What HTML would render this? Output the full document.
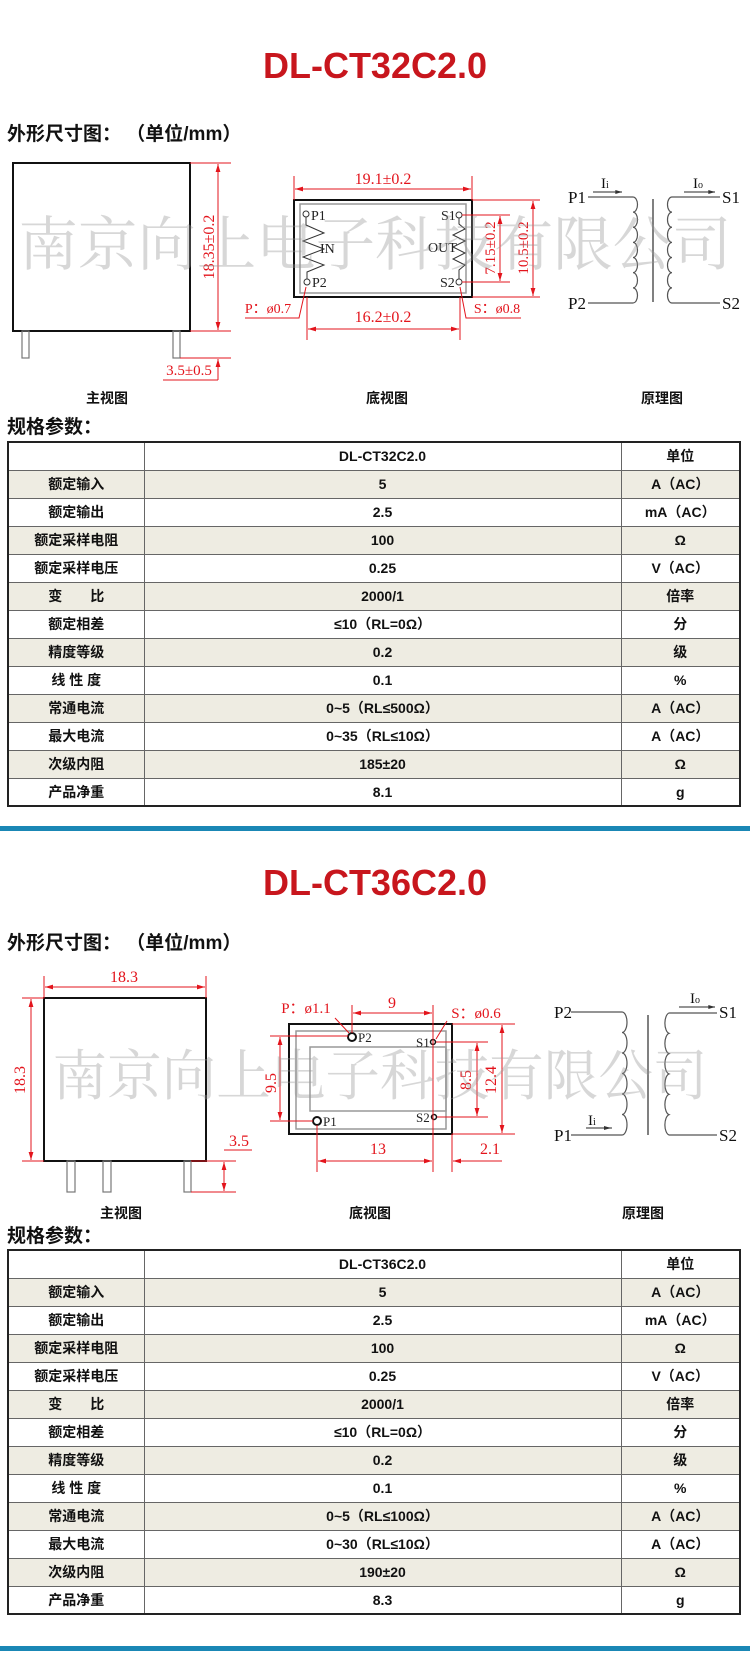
<!DOCTYPE html>
<html><head><meta charset="utf-8"><style>
*{margin:0;padding:0;box-sizing:border-box}
body{width:750px;height:1660px;background:#fff;position:relative;overflow:hidden;font-family:"Liberation Sans","Noto Sans CJK SC",sans-serif}
.title{position:absolute;left:0;width:750px;text-align:center;color:#c8161d;font-weight:bold;font-size:36px;line-height:40px}
.h{position:absolute;left:7px;font-weight:bold;font-size:19px;line-height:22px;color:#111}
.lbl{position:absolute;font-weight:bold;font-size:14px;color:#111;line-height:16px}
table{position:absolute;left:7px;width:732px;border-collapse:collapse;table-layout:fixed;border:2px solid #222}
td{border:1.5px solid #666;height:28px;text-align:center;font-weight:bold;font-size:14px;color:#111;padding:0}
tr.s td{background:#eeece2}
.bar{position:absolute;left:0;width:750px;height:5px;background:#1a87b5}
svg{position:absolute;left:0;top:0}
</style></head><body>

<div class="title" style="top:46px">DL-CT32C2.0</div>
<div class="h" style="top:124px">外形尺寸图：&nbsp;（单位/mm）</div>
<div class="lbl" style="top:390px;left:86px">主视图</div>
<div class="lbl" style="top:390px;left:366px">底视图</div>
<div class="lbl" style="top:390px;left:641px">原理图</div>
<div class="h" style="top:417px">规格参数：</div>
<table style="top:441px">
<colgroup><col style="width:136px"><col style="width:477px"><col style="width:119px"></colgroup>
<tr><td></td><td>DL-CT32C2.0</td><td>单位</td></tr>
<tr class="s"><td>额定输入</td><td>5</td><td>A（AC）</td></tr>
<tr><td>额定输出</td><td>2.5</td><td>mA（AC）</td></tr>
<tr class="s"><td>额定采样电阻</td><td>100</td><td>Ω</td></tr>
<tr><td>额定采样电压</td><td>0.25</td><td>V（AC）</td></tr>
<tr class="s"><td>变　　比</td><td>2000/1</td><td>倍率</td></tr>
<tr><td>额定相差</td><td>≤10（RL=0Ω）</td><td>分</td></tr>
<tr class="s"><td>精度等级</td><td>0.2</td><td>级</td></tr>
<tr><td>线 性 度</td><td>0.1</td><td>%</td></tr>
<tr class="s"><td>常通电流</td><td>0~5（RL≤500Ω）</td><td>A（AC）</td></tr>
<tr><td>最大电流</td><td>0~35（RL≤10Ω）</td><td>A（AC）</td></tr>
<tr class="s"><td>次级内阻</td><td>185±20</td><td>Ω</td></tr>
<tr><td>产品净重</td><td>8.1</td><td>g</td></tr>
</table>
<div class="bar" style="top:826px"></div>

<div class="title" style="top:863px">DL-CT36C2.0</div>
<div class="h" style="top:933px">外形尺寸图：&nbsp;（单位/mm）</div>
<div class="lbl" style="top:1205px;left:100px">主视图</div>
<div class="lbl" style="top:1205px;left:349px">底视图</div>
<div class="lbl" style="top:1205px;left:622px">原理图</div>
<div class="h" style="top:1226px">规格参数：</div>
<table style="top:1249px">
<colgroup><col style="width:136px"><col style="width:477px"><col style="width:119px"></colgroup>
<tr><td></td><td>DL-CT36C2.0</td><td>单位</td></tr>
<tr class="s"><td>额定输入</td><td>5</td><td>A（AC）</td></tr>
<tr><td>额定输出</td><td>2.5</td><td>mA（AC）</td></tr>
<tr class="s"><td>额定采样电阻</td><td>100</td><td>Ω</td></tr>
<tr><td>额定采样电压</td><td>0.25</td><td>V（AC）</td></tr>
<tr class="s"><td>变　　比</td><td>2000/1</td><td>倍率</td></tr>
<tr><td>额定相差</td><td>≤10（RL=0Ω）</td><td>分</td></tr>
<tr class="s"><td>精度等级</td><td>0.2</td><td>级</td></tr>
<tr><td>线 性 度</td><td>0.1</td><td>%</td></tr>
<tr class="s"><td>常通电流</td><td>0~5（RL≤100Ω）</td><td>A（AC）</td></tr>
<tr><td>最大电流</td><td>0~30（RL≤10Ω）</td><td>A（AC）</td></tr>
<tr class="s"><td>次级内阻</td><td>190±20</td><td>Ω</td></tr>
<tr><td>产品净重</td><td>8.3</td><td>g</td></tr>
</table>
<div class="bar" style="top:1646px"></div>

<svg width="750" height="1660" viewBox="0 0 750 1660">
<defs>
<marker id="a" viewBox="0 0 10 6" refX="10" refY="3" markerWidth="8" markerHeight="5" orient="auto-start-reverse" markerUnits="userSpaceOnUse"><path d="M0 0L10 3L0 6z" fill="#e3141c"/></marker>
<marker id="k" viewBox="0 0 10 6" refX="10" refY="3" markerWidth="7" markerHeight="4" orient="auto-start-reverse" markerUnits="userSpaceOnUse"><path d="M0 0L10 3L0 6z" fill="#333"/></marker>
</defs>
<g font-family="Liberation Serif, serif" font-size="16" fill="#e3141c" text-anchor="middle">
<g stroke="#111" fill="none">
<rect x="13" y="163" width="177" height="168" stroke-width="2"/>
<rect x="22" y="331" width="7" height="27" stroke="#777" stroke-width="1.2"/>
<rect x="173" y="331" width="7" height="27" stroke="#777" stroke-width="1.2"/>
</g>
<g stroke="#e3141c" stroke-width="1" fill="none">
<line x1="190" y1="163" x2="231" y2="163"/><line x1="190" y1="331" x2="231" y2="331"/><line x1="180" y1="358" x2="231" y2="358"/>
<line x1="218" y1="164" x2="218" y2="330" marker-start="url(#a)" marker-end="url(#a)"/>
<line x1="218" y1="380" x2="218" y2="359" marker-end="url(#a)"/>
<line x1="163" y1="380" x2="218" y2="380"/>
</g>
<text transform="translate(214,247) rotate(-90)">18.35±0.2</text>
<text x="189" y="375" font-size="15">3.5±0.5</text>

<g fill="none">
<rect x="294" y="200" width="178" height="97" stroke="#111" stroke-width="2"/>
<rect x="300" y="204" width="166" height="89" stroke="#999" stroke-width="1.5"/>
<g stroke="#333" stroke-width="1">
<circle cx="306" cy="214" r="3"/><circle cx="307" cy="282" r="3"/>
<circle cx="459" cy="215" r="3"/><circle cx="459" cy="282" r="3"/>
<path d="M306 217 L306 225 L324 233 L303 241 L324 249 L303 257 L324 265 L307 272 L307 279"/>
<path d="M459 218 L459 224 L465 229 L453 235 L465 241 L453 247 L465 253 L453 259 L465 265 L459 270 L459 279"/>
</g>
</g>
<g fill="#222" font-size="14" text-anchor="start">
<text x="311" y="220">P1</text><text x="312" y="287">P2</text>
<text x="320" y="253">IN</text><text x="428" y="252">OUT</text>
<text x="441" y="220">S1</text><text x="440" y="287">S2</text>
</g>
<g stroke="#e3141c" stroke-width="1" fill="none">
<line x1="294" y1="176" x2="294" y2="200"/><line x1="472" y1="176" x2="472" y2="200"/>
<line x1="295" y1="189" x2="471" y2="189" marker-start="url(#a)" marker-end="url(#a)"/>
<line x1="462" y1="215" x2="510" y2="215"/><line x1="462" y1="282" x2="510" y2="282"/>
<line x1="500" y1="216" x2="500" y2="281" marker-start="url(#a)" marker-end="url(#a)"/>
<line x1="472" y1="200" x2="540" y2="200"/><line x1="472" y1="297" x2="540" y2="297"/>
<line x1="533" y1="201" x2="533" y2="296" marker-start="url(#a)" marker-end="url(#a)"/>
<path d="M306 287 L299 318 L245 318"/><path d="M460 287 L466 318 L521 318"/>
<line x1="307" y1="297" x2="307" y2="340"/><line x1="460" y1="297" x2="460" y2="340"/>
<line x1="308" y1="329" x2="459" y2="329" marker-start="url(#a)" marker-end="url(#a)"/>
</g>
<text x="383" y="184">19.1±0.2</text>
<text transform="translate(495,248) rotate(-90)" font-size="15">7.15±0.2</text>
<text transform="translate(528,248) rotate(-90)" font-size="15">10.5±0.2</text>
<text x="268" y="313" font-size="14">P：ø0.7</text>
<text x="497" y="313" font-size="14">S：ø0.8</text>
<text x="383" y="322">16.2±0.2</text>

<g stroke="#555" stroke-width="1.2" fill="none">
<path d="M588 197 L633 197 a4.5 7.57 0 0 1 0 15.14 a4.5 7.57 0 0 1 0 15.14 a4.5 7.57 0 0 1 0 15.14 a4.5 7.57 0 0 1 0 15.14 a4.5 7.57 0 0 1 0 15.14 a4.5 7.57 0 0 1 0 15.14 a4.5 7.57 0 0 1 0 15.14 L588 303"/>
<path d="M720 197 L672 197 a4.5 7.57 0 0 0 0 15.14 a4.5 7.57 0 0 0 0 15.14 a4.5 7.57 0 0 0 0 15.14 a4.5 7.57 0 0 0 0 15.14 a4.5 7.57 0 0 0 0 15.14 a4.5 7.57 0 0 0 0 15.14 a4.5 7.57 0 0 0 0 15.14 L720 303"/>
<line x1="653" y1="199" x2="653" y2="302" stroke-width="1.5"/>
<line x1="593" y1="192" x2="622" y2="192" marker-end="url(#k)"/>
<line x1="684" y1="192" x2="715" y2="192" marker-end="url(#k)"/>
</g>
<g fill="#111" font-size="17" text-anchor="start">
<text x="568" y="203">P1</text><text x="568" y="309">P2</text>
<text x="722" y="203">S1</text><text x="722" y="309">S2</text>
<text x="601" y="188" font-size="15">I<tspan font-size="10">i</tspan></text>
<text x="693" y="188" font-size="15">I<tspan font-size="10">o</tspan></text>
</g>

<g stroke="#111" fill="none">
<rect x="44" y="998" width="162" height="163" stroke-width="2"/>
<g stroke="#777" stroke-width="1.2">
<rect x="67" y="1161" width="8" height="31"/><rect x="103" y="1161" width="8" height="31"/><rect x="184" y="1161" width="7" height="31"/>
</g>
</g>
<g stroke="#e3141c" stroke-width="1" fill="none">
<line x1="44" y1="976" x2="44" y2="998"/><line x1="206" y1="976" x2="206" y2="998"/>
<line x1="45" y1="987" x2="205" y2="987" marker-start="url(#a)" marker-end="url(#a)"/>
<line x1="22" y1="998" x2="44" y2="998"/><line x1="22" y1="1161" x2="44" y2="1161"/>
<line x1="31" y1="999" x2="31" y2="1160" marker-start="url(#a)" marker-end="url(#a)"/>
<line x1="191" y1="1161" x2="236" y2="1161"/><line x1="191" y1="1192" x2="236" y2="1192"/>
<line x1="224" y1="1162" x2="224" y2="1191" marker-start="url(#a)" marker-end="url(#a)"/>
<line x1="224" y1="1150" x2="252" y2="1150"/>
</g>
<text x="124" y="982">18.3</text>
<text transform="translate(25,1080) rotate(-90)">18.3</text>
<text x="239" y="1146">3.5</text>

<g fill="none">
<rect x="289" y="1024" width="163" height="110" stroke="#111" stroke-width="2"/>
<rect x="296" y="1031" width="150" height="98" stroke="#999" stroke-width="1.5"/>
<rect x="310" y="1047" width="136" height="64" stroke="#999" stroke-width="1.5"/>
<circle cx="352" cy="1037" r="4" stroke="#111" stroke-width="2"/>
<circle cx="317" cy="1121" r="4" stroke="#111" stroke-width="2"/>
<circle cx="433" cy="1042" r="2.5" stroke="#111" stroke-width="1.5"/>
<circle cx="434" cy="1117" r="2.5" stroke="#111" stroke-width="1.5"/>
</g>
<g fill="#222" font-size="13" text-anchor="start">
<text x="358" y="1042">P2</text><text x="416" y="1047">S1</text>
<text x="323" y="1126">P1</text><text x="416" y="1122">S2</text>
</g>
<g stroke="#e3141c" stroke-width="1" fill="none">
<line x1="352" y1="1005" x2="352" y2="1033"/><line x1="433" y1="1005" x2="433" y2="1172"/>
<line x1="353" y1="1013" x2="432" y2="1013" marker-start="url(#a)" marker-end="url(#a)"/>
<line x1="335" y1="1018" x2="349" y2="1033"/><line x1="447" y1="1021" x2="436" y2="1039"/>
<line x1="270" y1="1036" x2="348" y2="1036"/><line x1="270" y1="1121" x2="313" y2="1121"/>
<line x1="280" y1="1037" x2="280" y2="1120" marker-start="url(#a)" marker-end="url(#a)"/>
<line x1="436" y1="1042" x2="488" y2="1042"/><line x1="437" y1="1117" x2="488" y2="1117"/>
<line x1="477" y1="1043" x2="477" y2="1116" marker-start="url(#a)" marker-end="url(#a)"/>
<line x1="452" y1="1024" x2="515" y2="1024"/><line x1="452" y1="1134" x2="515" y2="1134"/>
<line x1="502" y1="1025" x2="502" y2="1133" marker-start="url(#a)" marker-end="url(#a)"/>
<line x1="317" y1="1125" x2="317" y2="1172"/><line x1="452" y1="1134" x2="452" y2="1172"/>
<line x1="318" y1="1161" x2="432" y2="1161" marker-start="url(#a)" marker-end="url(#a)"/>
<line x1="502" y1="1161" x2="453" y2="1161" marker-end="url(#a)"/>
</g>
<text x="392" y="1008">9</text>
<text x="306" y="1013" font-size="15">P：ø1.1</text>
<text x="476" y="1018" font-size="15">S：ø0.6</text>
<text transform="translate(276,1083) rotate(-90)">9.5</text>
<text transform="translate(471,1080) rotate(-90)">8.5</text>
<text transform="translate(496,1080) rotate(-90)">12.4</text>
<text x="378" y="1154">13</text>
<text x="490" y="1154">2.1</text>

<g stroke="#555" stroke-width="1.2" fill="none">
<path d="M571 1012 L622 1012 a5 10.25 0 0 1 0 20.5 a5 10.25 0 0 1 0 20.5 a5 10.25 0 0 1 0 20.5 a5 10.25 0 0 1 0 20.5 a5 10.25 0 0 1 0 20.5 a5 10.25 0 0 1 0 20.5 L571 1135"/>
<path d="M717 1013 L669 1013 a5 10.33 0 0 0 0 20.33 a5 10.33 0 0 0 0 20.33 a5 10.33 0 0 0 0 20.33 a5 10.33 0 0 0 0 20.33 a5 10.33 0 0 0 0 20.33 a5 10.33 0 0 0 0 20.33 L717 1135"/>
<line x1="648" y1="1015" x2="648" y2="1135" stroke-width="1.5"/>
<line x1="679" y1="1007" x2="715" y2="1007" marker-end="url(#k)"/>
<line x1="586" y1="1128" x2="612" y2="1128"/>
</g>
<path d="M604 1126 L611 1128 L604 1130z" fill="#333"/>
<g fill="#111" font-size="17" text-anchor="start">
<text x="554" y="1018">P2</text><text x="554" y="1141">P1</text>
<text x="719" y="1018">S1</text><text x="719" y="1141">S2</text>
<text x="690" y="1003" font-size="15">I<tspan font-size="10">o</tspan></text>
<text x="588" y="1125" font-size="15">I<tspan font-size="10">i</tspan></text>
</g>
</g>
<g font-family="Noto Serif CJK SC, serif" fill="rgba(150,150,150,0.38)" font-size="59" text-anchor="middle">
<text x="375" y="265" textLength="713" lengthAdjust="spacingAndGlyphs">南京向上电子科技有限公司</text>
<text x="380" y="1095" textLength="655" lengthAdjust="spacingAndGlyphs" font-size="55">南京向上电子科技有限公司</text>
</g>
</svg>
</body></html>
